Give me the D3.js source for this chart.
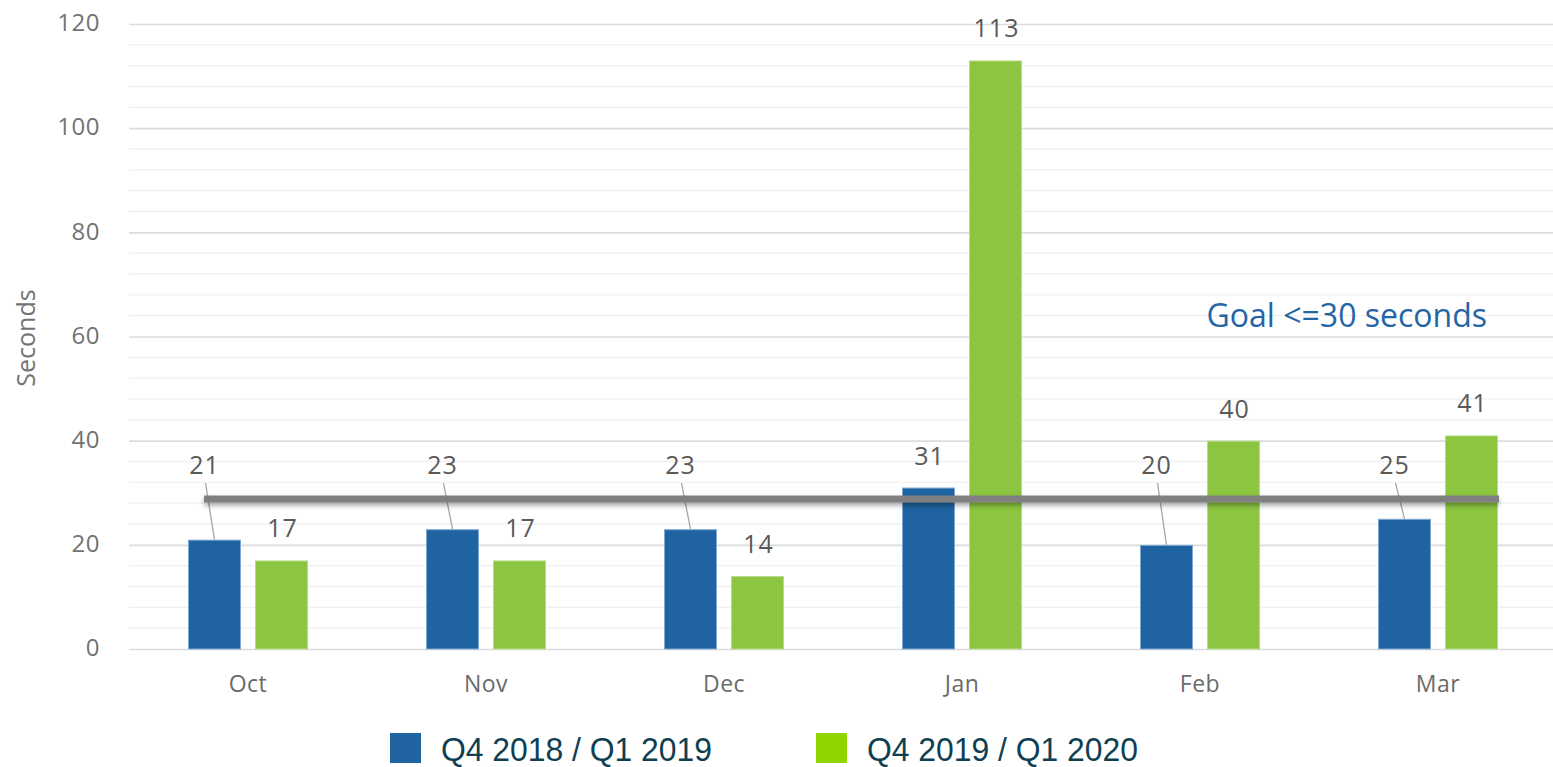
<!DOCTYPE html>
<html>
<head>
  <meta charset="utf-8">
  <title>Seconds by month</title>
  <script src="https://d3js.org/d3.v7.min.js"></script>
  <style>
    body { margin: 0; background: #fff; }
    svg { display: block; }
  </style>
</head>
<body>
<div id="container"></div>
<script>
  // data
  var months = ["Oct", "Nov", "Dec", "Jan", "Feb", "Mar"]
  var seriesNames = ["Q4 2018 / Q1 2019", "Q4 2019 / Q1 2020"]
  var prevYear = [21, 23, 23, 31, 20, 25]
  var currYear = [17, 17, 14, 113, 40, 41]
  var yTicks = [0, 20, 40, 60, 80, 100, 120]
  var goalValue = 28.8
  var goalLabel = "Goal <=30 seconds"

  var W = 1553, H = 767
  var margin = { top: 24, right: -4, bottom: 118, left: 129 }
  var h = H - margin.top - margin.bottom,
      w = W - margin.left - margin.right

  var barColors = ["#1f63a0", "#8cc540"],
      barStroke = ["#7ea9d4", "#b5dc88"],
      legendColors = ["#1f63a0", "#92d400"]

  var svg = d3.select("#container").append("svg")
      .attr("width", W)
      .attr("height", H)

  var defs = svg.append("defs")
  var shadow = defs.append("filter").attr("id", "shadow")
      .attr("filterUnits", "userSpaceOnUse")
      .attr("x", 0).attr("y", 0).attr("width", W).attr("height", H)
  shadow.append("feDropShadow")
      .attr("dx", 0).attr("dy", 3).attr("stdDeviation", 2.5)
      .attr("flood-color", "#000").attr("flood-opacity", 0.35)

  var g = svg.append("g").attr("transform", "translate(" + margin.left + "," + margin.top + ")")

  var x = d3.scaleBand().domain(months).range([0, w])
  var xs = d3.scaleBand().domain([0, 1]).range([x.bandwidth() / 2 - 60, x.bandwidth() / 2 + 60]).paddingInner(0.209)
  var y = d3.scaleLinear().domain([0, 120]).range([h, 0])

  // minor grid every 4
  g.append("g").selectAll("line")
      .data(d3.range(0, 121, 4).filter(function(d) { return d % 20 !== 0 }))
      .enter().append("line")
      .attr("x1", 0).attr("x2", W - margin.left)
      .attr("y1", function(d) { return y(d) }).attr("y2", function(d) { return y(d) })
      .attr("stroke", "#f0f0f0").attr("stroke-width", 1.3)

  // major grid + y axis
  var yAxis = d3.axisLeft(y).tickValues(yTicks).tickSize(-(W - margin.left)).tickPadding(29)
  var ya = g.append("g").call(yAxis)
  ya.select(".domain").remove()
  ya.selectAll(".tick line").attr("stroke", "#dcdcdc").attr("stroke-width", 1.6)
  ya.selectAll(".tick text")
      .attr("fill", "#737373")
      .style("font-family", "'Open Sans', sans-serif")
      .style("font-size", "24px")
      .style("letter-spacing", "0.5px")
      .attr("dy", "0.28em")

  svg.append("text")
      .attr("transform", "translate(35,338) rotate(-90)")
      .attr("text-anchor", "middle")
      .attr("fill", "#737373")
      .style("font-family", "'Open Sans', sans-serif")
      .style("font-size", "25px")
      .text("Seconds")

  // x axis
  var xAxis = d3.axisBottom(x).tickSize(0).tickPadding(27)
  var xa = g.append("g").attr("transform", "translate(0," + h + ")").call(xAxis)
  xa.select(".domain").remove()
  xa.selectAll(".tick text")
      .attr("fill", "#6b6b6b")
      .style("font-family", "'Open Sans', sans-serif")
      .style("font-size", "23px")
      .style("letter-spacing", "0.5px")

  var rows = months.map(function(m, i) { return { month: m, vals: [prevYear[i], currYear[i]] } })

  var groups = g.selectAll(".grp").data(rows).enter().append("g")
      .attr("class", "grp")
      .attr("transform", function(d) { return "translate(" + x(d.month) + ",0)" })

  groups.selectAll("rect").data(function(d) { return d.vals }).enter().append("rect")
      .attr("x", function(d, i) { return xs(i) + 0.5 })
      .attr("y", function(d) { return y(d) + 0.5 })
      .attr("width", xs.bandwidth() - 1)
      .attr("height", function(d) { return h - y(d) - 0.5 })
      .attr("fill", function(d, i) { return barColors[i] })
      .attr("stroke", function(d, i) { return barStroke[i] })
      .attr("stroke-width", 1)

  var goalY = y(goalValue)

  // goal line
  g.append("rect")
      .attr("x", x("Oct") + 75)
      .attr("width", x("Mar") + x.bandwidth() - 58 - (x("Oct") + 75))
      .attr("y", goalY - 3.5).attr("height", 7)
      .attr("fill", "#808080")
      .attr("filter", "url(#shadow)")

  g.append("text")
      .attr("x", x("Mar") + x.bandwidth() - 70)
      .attr("y", y(61.8))
      .attr("text-anchor", "end")
      .attr("fill", "#2365a6")
      .style("font-family", "'Open Sans', sans-serif")
      .style("font-size", "32px")
      .text(goalLabel)

  // data labels
  var labelFont = function(sel) {
    sel.attr("fill", "#595959")
      .attr("text-anchor", "middle")
      .style("font-family", "'Open Sans', sans-serif")
      .style("font-size", "25px")
      .style("letter-spacing", "1px")
  }

  groups.each(function(d) {
    var grp = d3.select(this)
    d.vals.forEach(function(v, i) {
      var cx = xs(i) + xs.bandwidth() / 2,
          top = y(v),
          ly = top - 23
      if (i === 0 && top > goalY - 10) {
        // pushed above goal line with a leader
        ly = goalY - 25
        grp.append("line")
            .attr("x1", cx - 9).attr("y1", ly + 9)
            .attr("x2", cx).attr("y2", top)
            .attr("stroke", "#a6a6a6").attr("stroke-width", 1.3)
        grp.append("text").attr("x", cx - 10).attr("y", ly).call(labelFont).text(v)
      } else {
        grp.append("text").attr("x", cx + 1).attr("y", ly).call(labelFont).text(v)
      }
    })
  })

  // legend
  var legendX = [390, 816]
  var leg = svg.append("g").selectAll("g").data(seriesNames).enter().append("g")
      .attr("transform", function(d, i) { return "translate(" + legendX[i] + ",733)" })
  leg.append("rect").attr("width", 31).attr("height", 30)
      .attr("fill", function(d, i) { return legendColors[i] })
  leg.append("text")
      .attr("x", 51).attr("y", 28)
      .attr("fill", "#0f3f52")
      .style("font-family", "'Liberation Sans', Arial, sans-serif")
      .style("font-size", "33px")
      .attr("textLength", 271)
      .attr("lengthAdjust", "spacingAndGlyphs")
      .text(function(d) { return d })
</script>
</body>
</html>
